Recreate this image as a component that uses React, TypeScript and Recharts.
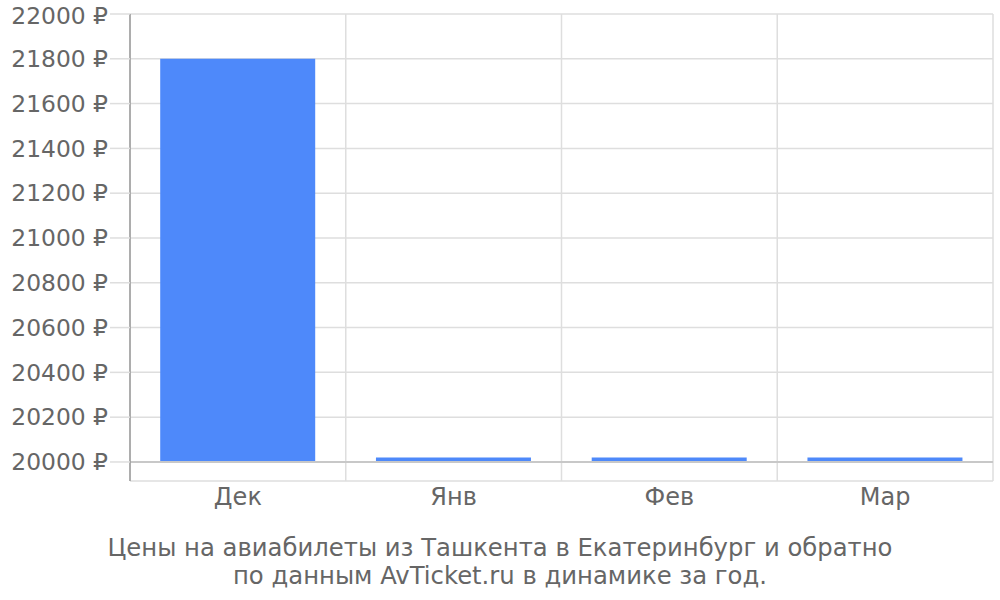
import React from 'react';
import {
  BarChart,
  Bar,
  XAxis,
  YAxis,
  CartesianGrid,
  ReferenceLine,
} from 'recharts';

// months and average ticket prices (rubles)
const months = ['Дек', 'Янв', 'Фев', 'Мар'];
const prices = [21800, 20020, 20020, 20020];
const yTicks = [20000, 20200, 20400, 20600, 20800, 21000, 21200, 21400, 21600, 21800, 22000];
const baseValue = 20000;
const titleLines = [
  'Цены на авиабилеты из Ташкента в Екатеринбург и обратно',
  'по данным AvTicket.ru в динамике за год.',
];

const data = months.map((m, i) => ({ name: m, price: prices[i] }));

const font = '"DejaVu Sans", sans-serif';
const textColor = '#666';

const App: React.FC = () => {
  return (
    <div style={{ position: 'absolute', left: 0, top: 0, width: 1000, height: 600, background: '#fff' }}>
      <BarChart
        width={1000}
        height={600}
        data={data}
        barCategoryGap="14%"
        margin={{ top: 14, right: 7, bottom: 79, left: 0 }}
      >
        <CartesianGrid
          stroke="#dedede"
          strokeWidth={1.5}
          verticalCoordinatesGenerator={({ offset }: any) =>
            months.map((_, i) => offset.left + (i * offset.width) / months.length).concat(offset.left + offset.width)
          }
        />
        <XAxis
          dataKey="name"
          axisLine={false}
          tickLine={false}
          tickSize={0}
          tickMargin={7}
          height={40}
          tick={{ fill: textColor, fontSize: 24, fontFamily: font }}
        />
        <YAxis
          type="number"
          domain={[19915, 22000]}
          ticks={yTicks}
          allowDataOverflow
          width={130}
          tickSize={20}
          tickMargin={2}
          tickLine={{ stroke: '#dedede', strokeWidth: 1.5 }}
          axisLine={{ stroke: '#9a9a9a', strokeWidth: 1.5 }}
          tickFormatter={(v: number) => `${v} ₽`}
          tick={{ fill: textColor, fontSize: 23.4, fontFamily: font }}
        />
        <Bar
          dataKey={(d: any) => [baseValue, d.price]}
          fill="#4e89fa"
          isAnimationActive={false}
        />
        <ReferenceLine y={baseValue} stroke="#c8c8c8" strokeWidth={2} />
      </BarChart>
      <div
        style={{
          position: 'absolute',
          left: 0,
          top: 534,
          width: 1000,
          textAlign: 'center',
          fontFamily: font,
          fontSize: 24.3,
          lineHeight: '28px',
          color: textColor,
        }}
      >
        {titleLines.map((t) => (
          <div key={t}>{t}</div>
        ))}
      </div>
    </div>
  );
};

export default App;
